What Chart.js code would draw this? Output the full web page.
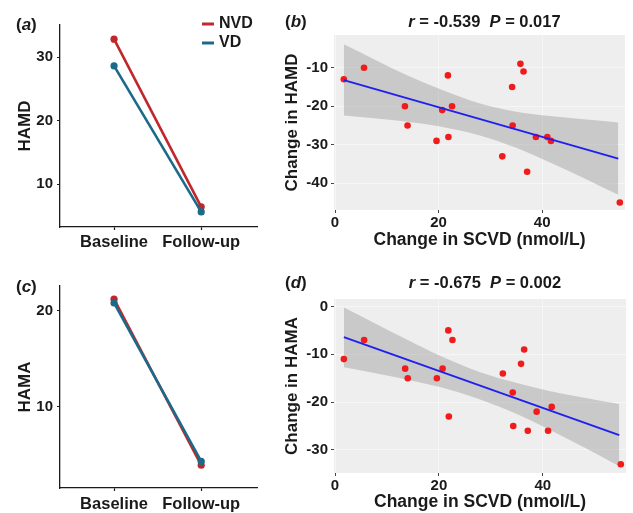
<!DOCTYPE html>
<html><head><meta charset="utf-8">
<script src="https://cdn.jsdelivr.net/npm/chart.js@4.4.1/dist/chart.umd.min.js"></script>
<style>
html,body{margin:0;padding:0;background:#fff;}
#wrap{position:relative;width:633px;height:513px;overflow:hidden;background:#fff;}
canvas{position:absolute;}
</style></head><body>
<div id="wrap">
<canvas id="ca" width="262" height="256" style="left:0;top:0;width:262px;height:256px"></canvas>
<canvas id="cb" width="371" height="256" style="left:262px;top:0;width:371px;height:256px"></canvas>
<canvas id="cc" width="262" height="257" style="left:0;top:256px;width:262px;height:257px"></canvas>
<canvas id="cd" width="371" height="257" style="left:262px;top:256px;width:371px;height:257px"></canvas>
</div>
<script>
// ---------- data ----------
const categories = ['Baseline', 'Follow-up'];
const hamdNVD = [32.8, 6.4];
const hamdVD  = [28.6, 5.6];
const hamaNVD = [21.2, 3.9];
const hamaVD  = [20.8, 4.3];
const hamdTicks = [10, 20, 30];
const hamaTicks = [10, 20];

const scvdChange = [1.7, 5.6, 13.5, 14.0, 19.6, 20.7, 21.8, 21.9, 22.6, 32.3, 34.2, 34.3, 35.8, 36.4, 37.1, 38.8, 41.0, 41.7, 55.0];
const hamdChange = [-13, -10, -20, -25, -29, -21, -12, -28, -20, -33, -15, -25, -9, -11, -37, -28, -28, -29, -45];
const hamaChange = [-11, -7, -13, -15, -15, -13, -5, -23, -7, -14, -18, -25, -12, -9, -26, -22, -26, -21, -33];

const fitX = [1.7, 54.7];
const hamdFit = [-13.2, -33.6];
const hamaFit = [-6.4, -26.9];
const bandX = [1.7, 8, 14, 20, 27.8, 35, 41, 48, 54.7];
const hamdUpper = [-3.9, -8.1, -12.0, -15.4, -19.2, -21.4, -22.5, -23.4, -24.2];
const hamdLower = [-22.4, -23.2, -24.0, -25.2, -27.5, -30.8, -34.3, -38.6, -43.0];
const hamaUpper = [-0.2, -3.7, -7.0, -10.2, -13.7, -16.0, -17.6, -19.1, -20.4];
const hamaLower = [-12.7, -14.0, -15.3, -16.8, -19.4, -22.5, -25.6, -29.5, -33.4];
const scvdTicks = [0, 20, 40];
const hamdChangeTicks = [-40, -30, -20, -10];
const hamaChangeTicks = [-30, -20, -10, 0];

const statB = {r: '-0.539', P: '0.017'};
const statD = {r: '-0.675', P: '0.002'};

// ---------- style ----------
const FONT = "'Liberation Sans', Arial, Helvetica, sans-serif";
const INK = '#1a1a1a';
const NVD_COLOR = '#c0272d';
const VD_COLOR = '#1b6a89';
const PANEL_BG = '#eeeeee';

function pts(xs, ys){ return xs.map((x,i)=>({x:x, y:ys[i]})); }

function drawMixed(ctx, parts, cx, cy, size, align){
  let total = 0;
  parts.forEach(p=>{ ctx.font = (p.i?'italic ':'') + 'bold ' + size + 'px ' + FONT; p.w = ctx.measureText(p.t).width; total += p.w; });
  let x = align === 'center' ? cx - total/2 : cx;
  ctx.textBaseline = 'middle'; ctx.textAlign = 'left'; ctx.fillStyle = INK;
  parts.forEach(p=>{ ctx.font = (p.i?'italic ':'') + 'bold ' + size + 'px ' + FONT; ctx.fillText(p.t, x, cy); x += p.w; });
}

function decor(cfg){
  return {
    id: 'decor',
    beforeDraw(chart){
      if (cfg.bg){
        const a = chart.chartArea, ctx = chart.ctx;
        ctx.save(); ctx.fillStyle = cfg.bg;
        ctx.fillRect(a.left, a.top, a.right - a.left, a.bottom - a.top);
        ctx.restore();
      }
    },
    afterDraw(chart){
      const ctx = chart.ctx; ctx.save();
      drawMixed(ctx, [{t:'('},{t:cfg.label,i:true},{t:')'}], cfg.lx, cfg.ly, 17, 'left');
      if (cfg.stat){
        drawMixed(ctx, [{t:'r',i:true},{t:' = ' + cfg.stat.r + '  '},{t:'P',i:true},{t:' = ' + cfg.stat.P}], cfg.tx, cfg.ty, 16.5, 'center');
      }
      if (cfg.legend){
        cfg.legend.forEach((name, k)=>{
          const ds = chart.data.datasets.find(d=>d.label===name);
          const y = cfg.legY[k];
          ctx.strokeStyle = ds.borderColor; ctx.lineWidth = 3;
          ctx.beginPath(); ctx.moveTo(cfg.legX, y); ctx.lineTo(cfg.legX + 12, y); ctx.stroke();
          ctx.fillStyle = INK; ctx.font = 'bold 16px ' + FONT; ctx.textBaseline = 'middle'; ctx.textAlign='left';
          ctx.fillText(name, cfg.legX + 17, y);
        });
      }
      ctx.restore();
    }
  };
}

const tickFont = {family: FONT, size: 15, weight: 'bold', lineHeight: 1};
const catFont = {family: FONT, size: 16.5, weight: 'bold', lineHeight: 1};
const titleFont = {family: FONT, size: 17, weight: 'bold', lineHeight: 1};
const xTitleFont = {family: FONT, size: 17.5, weight: 'bold', lineHeight: 1};

function linePanel(id, nvd, vd, yTicks, yMin, yMax, yTitle, pad, xH, titlePad, tickPad, dec){
  return new Chart(document.getElementById(id), {
    type: 'scatter',
    data: { datasets: [
      {label:'VD', data: pts([0,1], vd), showLine:true, borderColor:VD_COLOR, backgroundColor:VD_COLOR, borderWidth:2.6, pointRadius:3.6, pointBorderWidth:0, order:0},
      {label:'NVD', data: pts([0,1], nvd), showLine:true, borderColor:NVD_COLOR, backgroundColor:NVD_COLOR, borderWidth:2.6, pointRadius:3.6, pointBorderWidth:0, order:1}
    ]},
    options: {
      responsive:false, animation:false,
      layout:{padding: pad},
      plugins:{legend:{display:false}, tooltip:{enabled:false}},
      scales:{
        x:{type:'linear', min:-0.62, max:1.64,
           afterBuildTicks: s=>{ s.ticks = categories.map((c,i)=>({value:i})); },
           ticks:{callback:(v)=>categories[v], font:catFont, color:INK, padding:tickPad, maxRotation:0, autoSkip:false},
           grid:{display:true, drawOnChartArea:false, drawTicks:true, tickLength:3, tickColor:INK, tickWidth:1.2},
           border:{display:true, color:INK, width:1.3},
           afterFit: s=>{ s.height = xH; }},
        y:{type:'linear', min:yMin, max:yMax,
           afterBuildTicks: s=>{ s.ticks = yTicks.map(v=>({value:v})); },
           ticks:{font:tickFont, color:INK, padding:4},
           grid:{display:true, drawOnChartArea:false, drawTicks:true, tickLength:3, tickColor:INK, tickWidth:1.2},
           border:{display:true, color:INK, width:1.3},
           title:{display:true, text:yTitle, font:titleFont, color:INK, padding:{top:titlePad, bottom:0}},
           afterFit: s=>{ s.width = 60; }}
      }
    },
    plugins:[decor(dec)]
  });
}

function scatterPanel(id, ys, fit, upper, lower, yTicks, yMin, yMax, yTitle, pad, xH, xTitlePad, dec){
  return new Chart(document.getElementById(id), {
    type: 'scatter',
    data: { datasets: [
      {label:'upper', data: pts(bandX, upper), showLine:true, borderWidth:0, pointRadius:0, cubicInterpolationMode:'monotone', fill:'+1', backgroundColor:'rgba(150,150,150,0.42)', order:3},
      {label:'lower', data: pts(bandX, lower), showLine:true, borderWidth:0, pointRadius:0, cubicInterpolationMode:'monotone', fill:false, backgroundColor:'rgba(0,0,0,0)', order:4},
      {label:'points', data: pts(scvdChange, ys), pointRadius:3.3, pointBorderWidth:0, backgroundColor:'#f01c1c', borderColor:'#f01c1c', order:1},
      {label:'fit', data: pts(fitX, fit), showLine:true, borderColor:'#1f1fee', borderWidth:1.8, pointRadius:0, order:0}
    ]},
    options: {
      responsive:false, animation:false,
      layout:{padding: pad},
      plugins:{legend:{display:false}, tooltip:{enabled:false}},
      scales:{
        x:{type:'linear', min:-0.2, max:56.0,
           afterBuildTicks: s=>{ s.ticks = scvdTicks.map(v=>({value:v})); },
           ticks:{font:tickFont, color:INK, padding:2, maxRotation:0, autoSkip:false},
           grid:{display:true, color:'rgba(255,255,255,0.45)', lineWidth:1, drawTicks:true, tickLength:3, tickColor:'#444', tickWidth:1},
           border:{display:false},
           title:{display:true, text:'Change in SCVD (nmol/L)', font:xTitleFont, color:INK, padding:{top:0, bottom:xTitlePad}},
           afterFit: s=>{ s.height = xH; }},
        y:{type:'linear', min:yMin, max:yMax,
           afterBuildTicks: s=>{ s.ticks = yTicks.map(v=>({value:v})); },
           ticks:{font:tickFont, color:INK, padding:3},
           grid:{display:true, color:'rgba(255,255,255,0.45)', lineWidth:1, drawTicks:true, tickLength:3, tickColor:'#444', tickWidth:1},
           border:{display:false},
           title:{display:true, text:yTitle, font:titleFont, color:INK, padding:{top:21.5, bottom:0}},
           afterFit: s=>{ s.width = 72; }}
      }
    },
    plugins:[decor(dec)]
  });
}

linePanel('ca', hamdNVD, hamdVD, hamdTicks, 3.23, 35.04, 'HAMD', {left:0, top:25, right:5, bottom:0}, 29, 16.5, 4,
  {label:'a', lx:16, ly:25, legend:['NVD','VD'], legX:202, legY:[24, 43]});
scatterPanel('cb', hamdChange, hamdFit, hamdUpper, hamdLower, hamdChangeTicks, -46.93, -1.51, 'Change in HAMD',
  {left:0, top:35, right:8, bottom:0}, 46, 6.8,
  {label:'b', lx:23, ly:22, stat:statB, tx:222.5, ty:22, bg:PANEL_BG});
linePanel('cc', hamaNVD, hamaVD, hamaTicks, 1.53, 22.57, 'HAMA', {left:0, top:30, right:5, bottom:0}, 25, 16.5, 5,
  {label:'c', lx:16, ly:31});
scatterPanel('cd', hamaChange, hamaFit, hamaUpper, hamaLower, hamaChangeTicks, -34.83, 1.57, 'Change in HAMA',
  {left:0, top:43, right:7, bottom:0}, 40, 2.5,
  {label:'d', lx:23, ly:27, stat:statD, tx:223, ty:27, bg:PANEL_BG});
</script>
</body></html>
